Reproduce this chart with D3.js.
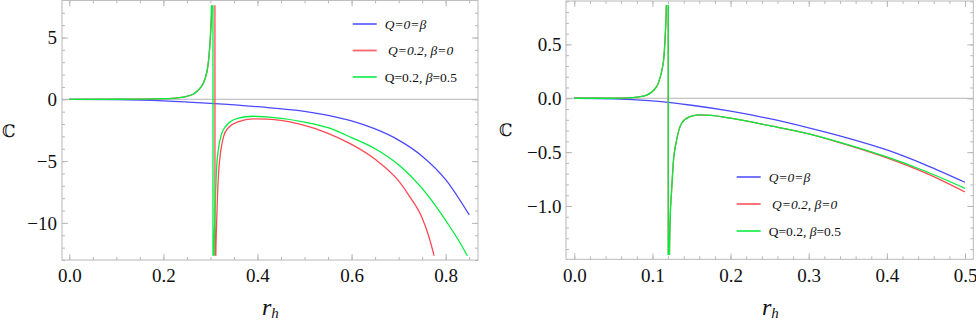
<!DOCTYPE html>
<html><head><meta charset="utf-8">
<script src="https://cdn.jsdelivr.net/npm/d3@7"></script>
<style>
html,body{margin:0;padding:0;background:#fff;}
svg{display:block;}
</style></head>
<body>
<svg id="chart" width="976" height="322"></svg>
<script>
// ---------- DATA (r_h, C) ----------
const leftBlue = [[0,0],[0.1,-0.03],[0.2,-0.13],[0.3,-0.33],[0.4,-0.6],[0.5,-0.97],[0.55,-1.3],[0.6,-1.75],[0.65,-2.4],[0.7,-3.3],[0.75,-4.6],[0.8,-6.5],[0.85,-9.35]];
const leftRed = [[0,0],[0.1,0.004],[0.15,0.015],[0.2,0.05],[0.23,0.12],[0.25,0.24],[0.265,0.45],[0.278,0.9],[0.288,1.6],[0.295,2.8],[0.299,4.5],[0.302,6.3],[0.305,9.5],[0.3093,60],
  [0.3099,-60],[0.3115,-12.6],[0.313,-10.2],[0.315,-7.8],[0.318,-5.6],[0.3215,-4.3],[0.328,-3.0],[0.338,-2.3],[0.36,-1.8],[0.39,-1.58],[0.42,-1.6],[0.49,-2.0],[0.55,-2.75],[0.6,-3.65],[0.65,-4.85],[0.7,-6.6],[0.725,-7.95],[0.75,-9.6],[0.7625,-10.9],[0.775,-12.6],[0.785,-14.2]];
const leftGreen = [[0,0],[0.1,0.004],[0.15,0.015],[0.2,0.05],[0.23,0.12],[0.25,0.24],[0.265,0.45],[0.278,0.9],[0.288,1.6],[0.295,2.8],[0.299,4.5],[0.301,6.2],[0.302,7.4],[0.3035,11],[0.3052,60],
  [0.3056,-60],[0.3075,-12.6],[0.309,-10.0],[0.311,-7.6],[0.313,-5.6],[0.3167,-4.1],[0.324,-2.77],[0.3345,-2.1],[0.356,-1.56],[0.391,-1.37],[0.42,-1.43],[0.5,-1.85],[0.55,-2.3],[0.6,-3.1],[0.65,-4.0],[0.7,-5.3],[0.75,-7.2],[0.8,-9.8],[0.845,-12.6],[0.86,-13.8]];

const rightBlue = [[0,0],[0.05,-0.005],[0.1,-0.025],[0.15,-0.065],[0.2,-0.12],[0.25,-0.19],[0.3,-0.275],[0.35,-0.37],[0.4,-0.48],[0.45,-0.62],[0.5,-0.78]];
const rightRed = [[0,0],[0.05,0],[0.07,0.003],[0.08,0.01],[0.0927,0.03],[0.101,0.07],[0.1075,0.14],[0.1118,0.25],[0.1148,0.39],[0.1165,0.6],[0.1178,0.86],[0.1192,3],[0.12,10],
  [0.1205,-10],[0.1213,-3],[0.1218,-1.45],[0.1228,-1.1],[0.1246,-0.85],[0.1267,-0.6],[0.131,-0.387],[0.1374,-0.232],[0.148,-0.171],[0.16,-0.155],[0.175,-0.158],[0.2,-0.185],[0.25,-0.255],[0.3,-0.33],[0.35,-0.435],[0.4,-0.553],[0.45,-0.695],[0.5,-0.87]];
const rightGreen = [[0,0],[0.05,0],[0.07,0.003],[0.08,0.01],[0.0927,0.03],[0.101,0.07],[0.1075,0.14],[0.1118,0.25],[0.1148,0.39],[0.1165,0.6],[0.1178,0.86],[0.1192,3],[0.12,10],
  [0.1205,-10],[0.1213,-3],[0.1218,-1.45],[0.1228,-1.1],[0.1246,-0.85],[0.1267,-0.6],[0.131,-0.387],[0.1374,-0.232],[0.148,-0.171],[0.16,-0.155],[0.175,-0.158],[0.2,-0.185],[0.25,-0.255],[0.3,-0.33],[0.35,-0.43],[0.4,-0.545],[0.45,-0.68],[0.5,-0.836]];

const leftXTicks = [0, 0.2, 0.4, 0.6, 0.8];
const leftYTicks = [5, 0, -5, -10];
const rightXTicks = [0, 0.1, 0.2, 0.3, 0.4, 0.5];
const rightYTicks = [0.5, 0, -0.5, -1.0];

const seriesColors = ["#4a4aff", "#ff4a55", "#00ee3c"];
const legendLabels = [
  [{t:"Q=0=β", i:true}],
  [{t:" Q=0.2, β=0", i:true}],
  [{t:"Q=0.2, ", i:false},{t:"β", i:true},{t:"=0.5", i:false}]
];

// ---------- DRAWING ----------
const SERIF = '"Liberation Serif","Times New Roman",Times,serif';
const svg = d3.select("#chart");
svg.append("rect").attr("width",976).attr("height",322).attr("fill","#fff");

function panel(cfg){
  const g = svg.append("g");
  const x = d3.scaleLinear().domain(cfg.xDom).range(cfg.xRange);
  const y = d3.scaleLinear().domain(cfg.yDom).range(cfg.yRange);
  const [x0,x1] = cfg.xRange, [y1,y0] = cfg.yRange;

  g.append("line").attr("x1",x0).attr("x2",x1).attr("y1",y(0)).attr("y2",y(0))
    .attr("stroke","#b4b4b4").attr("stroke-width",1);

  const frameCol = "#b8b8b8";
  const styleAxis = (sel, labels) => {
    sel.attr("font-family",null).style("font-family",SERIF);
    sel.select(".domain").remove();
    sel.selectAll(".tick line").attr("stroke",frameCol).attr("stroke-width",1);
    sel.selectAll(".tick text").style("font-family",SERIF)
      .style("font-size","19px").attr("fill","#111");
    if(!labels) sel.selectAll(".tick text").remove();
  };
  const minorX = d3.range(cfg.xMinorStart, cfg.xDom[1], cfg.xMinor).filter(v=>v>=cfg.xDom[0]);
  const minorY = d3.range(cfg.yMinorStart, cfg.yDom[1], cfg.yMinor).filter(v=>v>=cfg.yDom[0]);

  [["b",y1],["t",y0]].forEach(([s,pos])=>{
    const ax = (s==="b"?d3.axisBottom(x):d3.axisTop(x)).tickValues(minorX).tickSize(-3).tickFormat("");
    g.append("g").attr("transform",`translate(0,${pos})`).call(ax).call(sel=>styleAxis(sel,false));
    const axM = (s==="b"?d3.axisBottom(x):d3.axisTop(x)).tickValues(cfg.xTicks).tickSize(-6).tickPadding(9).tickFormat(cfg.xFmt);
    g.append("g").attr("transform",`translate(0,${pos})`).call(axM).call(sel=>styleAxis(sel,s==="b"));
  });
  [["l",x0],["r",x1]].forEach(([s,pos])=>{
    const ax = (s==="l"?d3.axisLeft(y):d3.axisRight(y)).tickValues(minorY).tickSize(-3).tickFormat("");
    g.append("g").attr("transform",`translate(${pos},0)`).call(ax).call(sel=>styleAxis(sel,false));
    const axM = (s==="l"?d3.axisLeft(y):d3.axisRight(y)).tickValues(cfg.yTicks).tickSize(-6).tickPadding(cfg.yPad).tickFormat(cfg.yFmt);
    g.append("g").attr("transform",`translate(${pos},0)`).call(axM).call(sel=>styleAxis(sel,s==="l"));
  });

  g.append("rect").attr("x",x0).attr("y",y0).attr("width",x1-x0).attr("height",y1-y0)
    .attr("fill","none").attr("stroke",frameCol).attr("stroke-width",1);

  const id = "clip"+cfg.name;
  svg.append("clipPath").attr("id",id).append("rect")
    .attr("x",x0).attr("y",y(cfg.clip[1])).attr("width",x1-x0).attr("height",y(cfg.clip[0])-y(cfg.clip[1]));
  const line = d3.line().x(d=>x(d[0])).y(d=>y(d[1])).curve(d3.curveMonotoneX);
  const cg = g.append("g").attr("clip-path",`url(#${id})`);
  cfg.series.forEach((s,i)=>{
    cg.append("path").attr("d",line(s)).attr("fill","none")
      .attr("stroke",seriesColors[i]).attr("stroke-width",1.3).attr("stroke-linejoin","round");
  });

  const lg = g.append("g");
  legendLabels.forEach((parts,i)=>{
    const ly = cfg.leg[1] + i*cfg.legStep;
    lg.append("line").attr("x1",cfg.leg[0]).attr("x2",cfg.leg[0]+24).attr("y1",ly).attr("y2",ly)
      .attr("stroke",seriesColors[i]).attr("stroke-width",1.8).attr("opacity",0.85);
    const t = lg.append("text").attr("x",cfg.leg[0]+32).attr("y",ly+4.5)
      .style("font-family",SERIF).style("font-size","13.5px").attr("fill","#111")
      .attr("xml:space","preserve").style("white-space","pre");
    parts.forEach(p=>t.append("tspan").style("font-style",p.i?"italic":"normal").text(p.t));
  });

  g.append("text").attr("x",cfg.cLabel[0]).attr("y",cfg.cLabel[1])
    .style("font-family",'"DejaVu Serif",serif').style("font-size","17px").attr("fill","#111").text("ℂ");
  const rl = g.append("text").attr("x",cfg.rLabel[0]).attr("y",cfg.rLabel[1])
    .style("font-family",SERIF).style("font-size","24px").style("font-style","italic").attr("fill","#111");
  rl.append("tspan").text("r");
  rl.append("tspan").style("font-size","15px").attr("dy",3).text("h");
}

panel({name:"L", xDom:[-0.0155,0.8687], xRange:[62,478], yDom:[-13,8], yRange:[260,0.4],
  xTicks:leftXTicks, yTicks:leftYTicks, xFmt:d3.format(".1f"), yFmt:d3.format("d"),
  xMinor:0.05, xMinorStart:0, yMinor:1, yMinorStart:-13, yPad:5,
  clip:[-12.65,7.6], series:[leftBlue,leftRed,leftGreen],
  leg:[352.7,24], legStep:26.5, cLabel:[2,137], rLabel:[262,315]});

panel({name:"R", xDom:[-0.0106,0.5106], xRange:[566,973.3], yDom:[-1.495,0.903], yRange:[259.3,1],
  xTicks:rightXTicks, yTicks:rightYTicks, xFmt:d3.format(".1f"), yFmt:d3.format(".1f"),
  xMinor:0.02, xMinorStart:0, yMinor:0.1, yMinorStart:-1.4, yPad:4.5,
  clip:[-1.455,0.866], series:[rightBlue,rightRed,rightGreen],
  leg:[736.7,177], legStep:27, cLabel:[499,136], rLabel:[762,315]});
</script>
</body></html>
